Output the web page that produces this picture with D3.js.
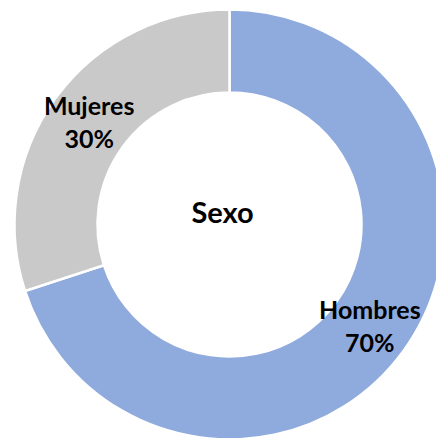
<!DOCTYPE html>
<html>
<head>
<meta charset="utf-8">
<script src="https://cdn.jsdelivr.net/npm/d3@7"></script>
<style>
  html, body { margin: 0; padding: 0; background: #fff; }
  svg { display: block; }
</style>
</head>
<body>
<svg id="chart" width="436" height="438"></svg>
<script>
const categories = ["Hombres", "Mujeres"];
const values = [70, 30];
const percentLabels = ["70%", "30%"];
const colors = ["#8FAADC", "#C9C9C9"];
const title = "Sexo";

const svg = d3.select("#chart");
const cx = 229.5, cy = 224.5, rOuter = 215, rInner = 132;
const g = svg.append("g").attr("transform", `translate(${cx},${cy})`);

const pie = d3.pie().sort(null).value(d => d.value);
const data = categories.map((c, i) => ({ name: c, value: values[i], pct: percentLabels[i], color: colors[i] }));
const arcs = pie(data);
const arc = d3.arc().innerRadius(rInner).outerRadius(rOuter);

g.selectAll("path.slice").data(arcs).enter().append("path")
  .attr("class", "slice")
  .attr("d", arc)
  .attr("fill", d => d.data.color)
  .attr("stroke", "#fff")
  .attr("stroke-width", 2.5);

const font = "Lato, 'Noto Sans', sans-serif";
const labels = g.selectAll("text.lbl").data(arcs).enter().append("text")
  .attr("class", "lbl")
  .attr("font-family", font)
  .attr("font-weight", "bold")
  .attr("font-size", 25)
  .attr("fill", "#000")
  .attr("text-anchor", "middle")
  .attr("transform", d => { const [x, y] = arc.centroid(d); return `translate(${x},${y})`; });
labels.append("tspan").attr("x", 0).attr("y", -7.5).text(d => d.data.name);
labels.append("tspan").attr("x", 0).attr("y", 25.5).text(d => d.data.pct);

g.append("text")
  .attr("x", -7).attr("y", -2)
  .attr("font-family", font)
  .attr("font-weight", "bold")
  .attr("font-size", 29)
  .attr("fill", "#000")
  .attr("text-anchor", "middle")
  .text(title);
</script>
</body>
</html>
